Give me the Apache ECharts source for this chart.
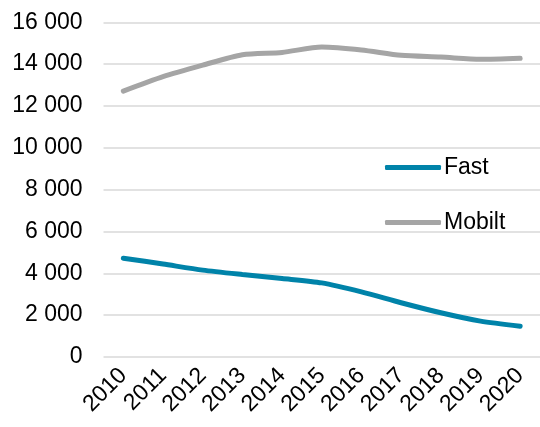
<!DOCTYPE html>
<html><head><meta charset="utf-8">
<script src="https://cdn.jsdelivr.net/npm/echarts@6/dist/echarts.min.js"></script>
<style>html,body{margin:0;padding:0;background:#fff}#c{width:540px;height:427px}</style>
</head><body><div id="c"></div>
<script>
var years = ['2010','2011','2012','2013','2014','2015','2016','2017','2018','2019','2020'];
var fast = [4720, 4440, 4150, 3940, 3750, 3540, 3110, 2590, 2110, 1710, 1470];
var mobilt = [12710, 13400, 13950, 14450, 14560, 14820, 14680, 14420, 14340, 14230, 14280];
var yTicks = [0, 2000, 4000, 6000, 8000, 10000, 12000, 14000, 16000];

function fmt(v){ return String(v).replace(/\B(?=(\d{3})+(?!\d))/g, ' '); }

var chart = echarts.init(document.getElementById('c'), null, {renderer:'canvas'});
chart.setOption({
  animation: false,
  textStyle: {fontFamily: 'Liberation Sans, Arial, sans-serif'},
  grid: {left: 103.5, top: 22.3, width: 440, height: 334.6, containLabel: false},
  legend: {
    orient: 'vertical', left: 380, top: 151,
    itemWidth: 56, itemHeight: 5, itemGap: 32,
    icon: 'roundRect',
    textStyle: {fontSize: 23, color: '#000', padding: [0,0,0,-2]},
    data: ['Fast', 'Mobilt']
  },
  xAxis: {
    type: 'category', data: years, boundaryGap: true,
    axisLine: {show: false}, axisTick: {show: false},
    axisLabel: {rotate: 45, fontSize: 23, color: '#000', margin: 15, interval: 0}
  },
  yAxis: {
    type: 'value', min: yTicks[0], max: yTicks[yTicks.length-1], interval: 2000,
    axisLine: {show: false}, axisTick: {show: false},
    axisLabel: {fontSize: 23, color: '#000', margin: 21, formatter: fmt},
    splitLine: {lineStyle: {color: '#d9d9d9', width: 1.5}}
  },
  series: [
    {name: 'Fast', type: 'line', data: fast, smooth: 0.25, showSymbol: false,
     lineStyle: {color: '#0083a9', width: 5, cap: 'round'}, itemStyle: {color: '#0083a9'}},
    {name: 'Mobilt', type: 'line', data: mobilt, smooth: 0.25, showSymbol: false,
     lineStyle: {color: '#a5a5a5', width: 5, cap: 'round'}, itemStyle: {color: '#a5a5a5'}}
  ]
});
</script></body></html>
